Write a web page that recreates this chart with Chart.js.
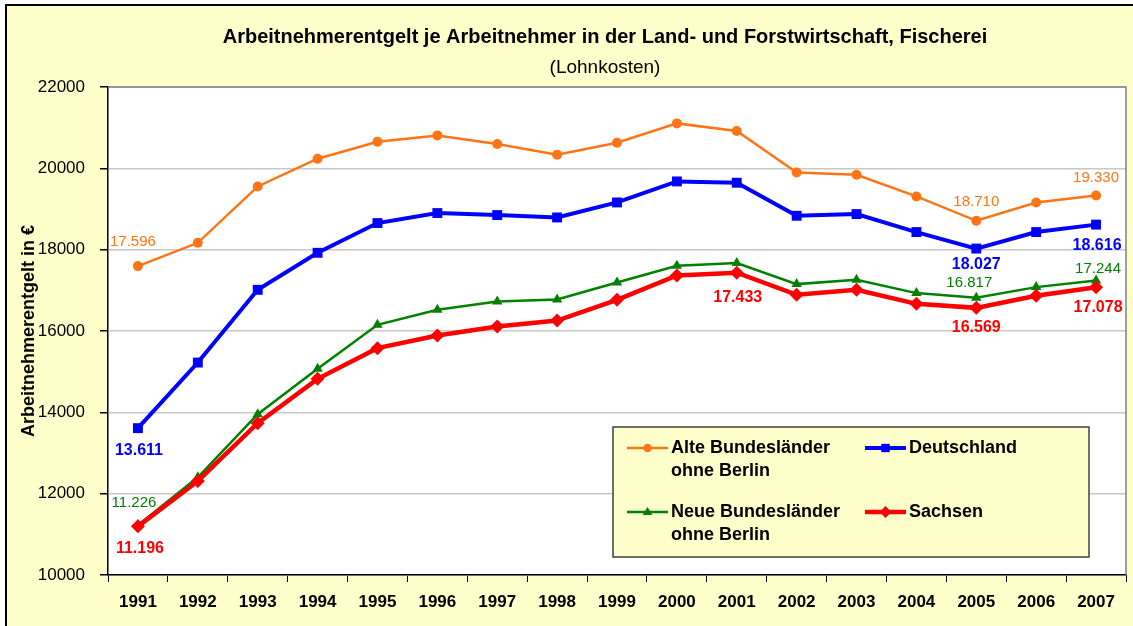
<!DOCTYPE html>
<html lang="de">
<head>
<meta charset="utf-8">
<title>Arbeitnehmerentgelt je Arbeitnehmer</title>
<script src="https://cdn.jsdelivr.net/npm/chart.js@4.4.1/dist/chart.umd.min.js"></script>
<style>
  html, body { margin: 0; padding: 0; background: #ffffff; }
  #wrap { width: 1133px; height: 626px; }
</style>
</head>
<body>
<div id="wrap"><canvas id="myChart" width="1133" height="626"></canvas></div>
<script>
const years = ["1991", "1992", "1993", "1994", "1995", "1996", "1997", "1998", "1999",
  "2000", "2001", "2002", "2003", "2004", "2005", "2006", "2007"];

const alteLaender = [17596, 18169, 19555, 20236, 20654, 20810, 20598, 20335, 20630,
  21105, 20918, 19899, 19843, 19309, 18710, 19161, 19330];
const deutschland = [13611, 15224, 17013, 17923, 18654, 18900, 18851, 18792, 19161,
  19678, 19646, 18834, 18875, 18433, 18027, 18433, 18616];
const neueLaender = [11226, 12404, 13954, 15069, 16152, 16521, 16725, 16774, 17192,
  17603, 17670, 17153, 17259, 16932, 16817, 17079, 17244];
const sachsen = [11196, 12313, 13733, 14823, 15578, 15888, 16110, 16257, 16767,
  17365, 17433, 16890, 17013, 16668, 16569, 16865, 17078];

const yMin = 10000;
const yMax = 22000;
const yStep = 2000;

const seriesNames = [
  ["Alte Bundesländer", "ohne Berlin"],
  ["Deutschland"],
  ["Neue Bundesländer", "ohne Berlin"],
  ["Sachsen"]
];

const titleText = "Arbeitnehmerentgelt je Arbeitnehmer in der Land- und Forstwirtschaft, Fischerei";
const subtitleText = "(Lohnkosten)";
const yTitle = "Arbeitnehmerentgelt in €";

const FONT = "'Liberation Sans', Arial, Helvetica, sans-serif";

// which points get a value label (dataset, index) and where it sits relative to the point
const valueLabels = [
  { ds: 0, i: 0, dx: -5, dy: -24 },
  { ds: 0, i: 14, dx: 0, dy: -19 },
  { ds: 0, i: 16, dx: 0, dy: -18 },
  { ds: 1, i: 0, dx: 1, dy: 22 },
  { ds: 1, i: 14, dx: 0, dy: 16 },
  { ds: 1, i: 16, dx: 1, dy: 21 },
  { ds: 2, i: 0, dx: -4, dy: -22 },
  { ds: 2, i: 14, dx: -7, dy: -15 },
  { ds: 2, i: 16, dx: 2, dy: -12 },
  { ds: 3, i: 0, dx: 2, dy: 22 },
  { ds: 3, i: 10, dx: 1, dy: 25 },
  { ds: 3, i: 14, dx: 0, dy: 20 },
  { ds: 3, i: 16, dx: 2, dy: 20 }
];
const labelFonts = ["normal 15px " + FONT, "bold 16px " + FONT, "normal 15px " + FONT, "bold 16px " + FONT];

function germanNumber(v) {
  return Math.floor(v / 1000) + "." + String(v % 1000).padStart(3, "0");
}

function drawMarker(ctx, style, x, y, r) {
  ctx.beginPath();
  if (style === "circle") {
    ctx.arc(x, y, r, 0, Math.PI * 2);
  } else if (style === "rect") {
    let s = r * Math.SQRT1_2;
    ctx.rect(x - s, y - s, 2 * s, 2 * s);
  } else if (style === "triangle") {
    ctx.moveTo(x, y - r);
    ctx.lineTo(x + r * 0.95, y + r * 0.6);
    ctx.lineTo(x - r * 0.95, y + r * 0.6);
  } else {
    ctx.moveTo(x, y - r);
    ctx.lineTo(x + r, y);
    ctx.lineTo(x, y + r);
    ctx.lineTo(x - r, y);
  }
  ctx.closePath();
  ctx.fill();
}

// yellow frame, white plot area, titles
const framePlugin = {
  id: "frame",
  beforeDraw(chart) {
    let ctx = chart.ctx;
    let area = chart.chartArea;
    ctx.save();
    ctx.fillStyle = "#FFFFCC";
    ctx.fillRect(6, 5, chart.width - 6, chart.height - 5);
    ctx.strokeStyle = "#000000";
    ctx.lineWidth = 2;
    ctx.beginPath();
    ctx.moveTo(6, chart.height);
    ctx.lineTo(6, 5);
    ctx.lineTo(chart.width, 5);
    ctx.stroke();
    ctx.fillStyle = "#ffffff";
    ctx.fillRect(area.left, area.top, area.right - area.left, area.bottom - area.top);

    ctx.fillStyle = "#000000";
    ctx.textAlign = "center";
    ctx.textBaseline = "alphabetic";
    ctx.font = "bold 20px " + FONT;
    ctx.fillText(titleText, 605, 43);
    ctx.font = "normal 19px " + FONT;
    ctx.fillText(subtitleText, 605, 73);
    ctx.restore();
  },
  beforeDatasetsDraw(chart) {
    let ctx = chart.ctx;
    let area = chart.chartArea;
    ctx.save();
    ctx.strokeStyle = "#808080";
    ctx.lineWidth = 1.5;
    ctx.beginPath();
    ctx.moveTo(area.left, area.top);
    ctx.lineTo(area.right, area.top);
    ctx.lineTo(area.right, area.bottom);
    ctx.stroke();
    ctx.restore();
  }
};

// legend box inside the plot and the value labels
const labelPlugin = {
  id: "labels",
  afterDatasetsDraw(chart) {
    let ctx = chart.ctx;
    let area = chart.chartArea;
    ctx.save();

    let bw = 476, bh = 130;
    let bx = area.right - 37 - bw;
    let by = area.bottom - 18 - bh;
    ctx.fillStyle = "#FFFFCC";
    ctx.fillRect(bx, by, bw, bh);
    ctx.strokeStyle = "#404040";
    ctx.lineWidth = 1.5;
    ctx.strokeRect(bx, by, bw, bh);

    let cols = [14, 252];
    let rows = [21, 85];
    ctx.font = "bold 18px " + FONT;
    ctx.textAlign = "left";
    ctx.textBaseline = "middle";
    chart.data.datasets.forEach((ds, k) => {
      let x0 = bx + cols[k % 2];
      let y0 = by + rows[Math.floor(k / 2)];
      ctx.strokeStyle = ds.borderColor;
      ctx.lineWidth = ds.borderWidth;
      ctx.beginPath();
      ctx.moveTo(x0, y0);
      ctx.lineTo(x0 + 41, y0);
      ctx.stroke();
      ctx.fillStyle = ds.borderColor;
      drawMarker(ctx, ds.pointStyle, x0 + 20.5, y0, ds.pointRadius * 0.85);
      ctx.fillStyle = "#000000";
      seriesNames[k].forEach((line, j) => {
        ctx.fillText(line, x0 + 44, y0 + j * 23);
      });
    });

    ctx.textAlign = "center";
    ctx.textBaseline = "middle";
    valueLabels.forEach((lb) => {
      let ds = chart.data.datasets[lb.ds];
      let pt = chart.getDatasetMeta(lb.ds).data[lb.i];
      ctx.font = labelFonts[lb.ds];
      ctx.fillStyle = ds.borderColor;
      ctx.fillText(germanNumber(ds.data[lb.i]), pt.x + lb.dx, pt.y + lb.dy);
    });
    ctx.restore();
  }
};

let ctx = document.getElementById("myChart").getContext("2d");
let myChart = new Chart(ctx, {
  type: "line",
  data: {
    labels: years,
    datasets: [
      {
        label: seriesNames[0].join(" "),
        data: alteLaender,
        borderColor: "#FF7415",
        backgroundColor: "#FF7415",
        borderWidth: 2.5,
        pointStyle: "circle",
        pointRadius: 5,
        pointBorderWidth: 0,
        order: 3
      },
      {
        label: seriesNames[1].join(" "),
        data: deutschland,
        borderColor: "#0000FF",
        backgroundColor: "#0000FF",
        borderWidth: 4,
        pointStyle: "rect",
        pointRadius: 7,
        pointBorderWidth: 0,
        order: 2
      },
      {
        label: seriesNames[2].join(" "),
        data: neueLaender,
        borderColor: "#008000",
        backgroundColor: "#008000",
        borderWidth: 2.5,
        pointStyle: "triangle",
        pointRadius: 6,
        pointBorderWidth: 0,
        order: 1
      },
      {
        label: seriesNames[3].join(" "),
        data: sachsen,
        borderColor: "#FF0000",
        backgroundColor: "#FF0000",
        borderWidth: 4.5,
        pointStyle: "rectRot",
        pointRadius: 7,
        pointBorderWidth: 0,
        order: 0
      }
    ]
  },
  options: {
    responsive: false,
    animation: false,
    events: [],
    layout: {
      padding: { top: 87, left: 18, right: 7, bottom: 0 }
    },
    plugins: {
      legend: { display: false },
      tooltip: { enabled: false },
      title: { display: false }
    },
    scales: {
      x: {
        offset: true,
        grid: {
          offset: true,
          drawOnChartArea: false,
          tickLength: 7,
          tickColor: "#000000"
        },
        border: { color: "#000000", width: 1.5 },
        ticks: {
          color: "#000000",
          padding: 10,
          font: { family: FONT, size: 17, weight: "bold" }
        },
        afterFit(scale) {
          scale.height = 51;
        }
      },
      y: {
        min: yMin,
        max: yMax,
        grid: {
          color: "#C8C8C8",
          lineWidth: 1.5,
          tickLength: 8,
          tickColor: "#000000"
        },
        border: { color: "#000000", width: 1.5 },
        ticks: {
          stepSize: yStep,
          color: "#000000",
          padding: 15,
          font: { family: FONT, size: 17 },
          callback: (v) => String(v)
        },
        title: {
          display: true,
          text: yTitle,
          color: "#000000",
          padding: 0,
          font: { family: FONT, size: 18, weight: "bold" }
        },
        afterFit(scale) {
          scale.width = 90;
        }
      }
    }
  },
  plugins: [framePlugin, labelPlugin]
});
</script>
</body>
</html>
